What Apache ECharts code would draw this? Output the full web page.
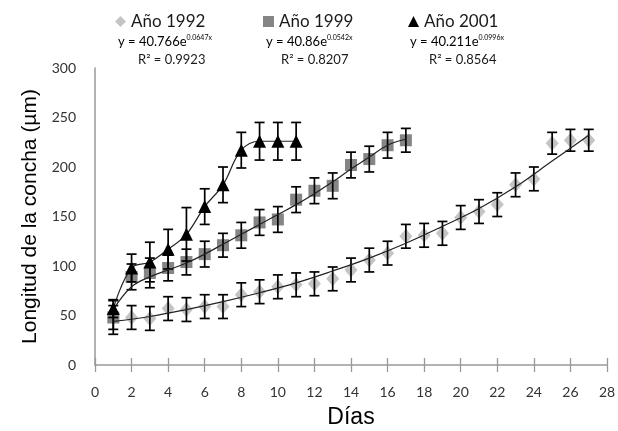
<!DOCTYPE html>
<html>
<head>
<meta charset="utf-8">
<script src="https://cdn.jsdelivr.net/npm/echarts@6/dist/echarts.min.js"></script>
<style>
html, body { margin: 0; padding: 0; background: #fff; }
#chart { width: 618px; height: 431px; }
</style>
</head>
<body>
<div id="chart"></div>
<script>
// Año 1992 (rombos)
var days1992 = [1, 2, 3, 4, 5, 6, 7, 8, 9, 10, 11, 12, 13, 14, 15, 16, 17, 18, 19, 20, 21, 22, 23, 24, 25, 26, 27];
var len1992 = [48, 48, 47, 57, 56, 59, 59, 71, 74, 79, 81, 82, 87, 96, 106, 113, 130, 131, 133, 149, 155, 162, 182, 188, 224, 227, 227];
var err1992 = [12, 12, 12, 12, 12, 12, 12, 12, 12, 12, 12, 12, 12, 12, 12, 12, 12, 12, 12, 12, 12, 12, 12, 12, 11, 11, 11];
// curva de tendencia 1992
var trendX1992 = [1, 3, 5, 7, 9, 11, 13, 15, 17, 19, 21, 23, 25, 27];
var trendY1992 = [44, 49, 56, 64, 73, 83, 95, 108, 123, 140, 158, 180, 206, 232];

// Año 1999 (cuadrados)
var days1999 = [1, 2, 3, 4, 5, 6, 7, 8, 9, 10, 11, 12, 13, 14, 15, 16, 17];
var len1999 = [48, 89, 93, 98, 104, 112, 121, 131, 144, 147, 167, 176, 181, 202, 208, 222, 227];
var err1999 = [17, 13, 15, 13, 13, 13, 12, 13, 13, 13, 13, 13, 13, 13, 13, 13, 12];
var trendX1999 = [1, 2, 3, 4, 5, 6, 7, 8, 9, 10, 11, 12, 13, 14, 15, 16, 17];
var trendY1999 = [56, 79, 89, 96, 103, 112, 122, 132, 142, 152, 162, 173, 185, 198, 210, 222, 228];

// Año 2001 (triangulos)
var days2001 = [1, 2, 3, 4, 5, 6, 7, 8, 9, 10, 11];
var len2001 = [57, 98, 104, 117, 132, 160, 182, 217, 226, 226, 226];
var err2001 = [9, 14, 20, 20, 27, 18, 18, 18, 19, 19, 19];

var xTicks = [0, 2, 4, 6, 8, 10, 12, 14, 16, 18, 20, 22, 24, 26, 28];
var yTicks = [0, 50, 100, 150, 200, 250, 300];

function pairs(xs, ys) {
    var d = [];
    for (var i = 0; i < xs.length; i++) d.push([xs[i], ys[i]]);
    return d;
}
function triples(xs, ys, es) {
    var d = [];
    for (var i = 0; i < xs.length; i++) d.push([xs[i], ys[i], es[i]]);
    return d;
}

// barras de error
function renderErr(params, api) {
    var x = api.value(0), y = api.value(1), e = api.value(2);
    var top = api.coord([x, y + e]);
    var bot = api.coord([x, y - e]);
    var hw = 5;
    var st = { stroke: '#000', lineWidth: 1.7 };
    return {
        type: 'group',
        children: [
            { type: 'line', shape: { x1: top[0], y1: top[1], x2: bot[0], y2: bot[1] }, style: st },
            { type: 'line', shape: { x1: top[0] - hw, y1: top[1], x2: top[0] + hw, y2: top[1] }, style: st },
            { type: 'line', shape: { x1: bot[0] - hw, y1: bot[1], x2: bot[0] + hw, y2: bot[1] }, style: st }
        ]
    };
}

var font = 'Lato, "Open Sans", sans-serif';
var titleFont = '"Liberation Sans", Arial, sans-serif';

function legendAt(left, name, icon, color) {
    return {
        left: left, top: 8, selectedMode: false,
        itemWidth: 11, itemHeight: 11, itemGap: 4,
        textStyle: { fontFamily: font, fontSize: 17, color: '#1a1a1a' },
        data: [{ name: name, icon: icon, itemStyle: { color: color } }]
    };
}

function eqText(left, top, a, sup) {
    return {
        type: 'text', left: left, top: top,
        style: {
            text: '{a|' + a + '}{s|' + sup + '}',
            rich: {
                a: { fontFamily: font, fontSize: 13, color: '#1a1a1a', lineHeight: 15 },
                s: { fontFamily: font, fontSize: 7, color: '#1a1a1a', verticalAlign: 'top', lineHeight: 15 }
            }
        }
    };
}
function r2Text(left, top, txt) {
    return {
        type: 'text', left: left, top: top,
        style: { text: txt, fontFamily: font, fontSize: 13, fill: '#1a1a1a' }
    };
}

var chart = echarts.init(document.getElementById('chart'));

var option = {
    animation: false,
    backgroundColor: '#fff',
    legend: [
        legendAt(110, 'Año 1992', 'diamond', '#c4c4c4'),
        legendAt(258, 'Año 1999', 'rect', '#858585'),
        legendAt(403, 'Año 2001', 'triangle', '#000')
    ],
    graphic: [
        eqText(118, 34, 'y = 40.766e', '0.0647x'),
        r2Text(138, 53, 'R² = 0.9923'),
        eqText(266, 34, 'y = 40.86e', '0.0542x'),
        r2Text(281, 53, 'R² = 0.8207'),
        eqText(410, 34, 'y = 40.211e', '0.0996x'),
        r2Text(429, 53, 'R² = 0.8564')
    ],
    grid: { left: 95, right: 11, top: 68, bottom: 66, outerBoundsMode: 'none', containLabel: false },
    xAxis: [{
        type: 'value', min: 0, max: 28, interval: 2,
        name: 'Días', nameLocation: 'middle', nameGap: 41,
        nameTextStyle: { fontFamily: titleFont, fontSize: 23, color: '#000' },
        axisLine: { lineStyle: { color: '#999', width: 1.5 } },
        axisTick: { show: true, length: 7, lineStyle: { color: '#999', width: 1.3 } },
        axisLabel: { fontFamily: font, fontSize: 14, color: '#333', margin: 20 },
        splitLine: { show: false }
    }, {
        type: 'value', min: 0, max: 28, interval: 2, position: 'bottom',
        axisLine: { show: false },
        axisTick: { show: true, inside: true, length: 7, lineStyle: { color: '#999', width: 1.3 } },
        axisLabel: { show: false },
        splitLine: { show: false }
    }],
    yAxis: {
        type: 'value', min: 0, max: 300, interval: 50,
        name: 'Longitud de la concha (µm)', nameLocation: 'middle', nameGap: 54,
        nameTextStyle: { fontFamily: titleFont, fontSize: 21, color: '#000' },
        axisLine: { show: true, lineStyle: { color: '#999', width: 1.5 } },
        axisTick: { show: false },
        axisLabel: { fontFamily: font, fontSize: 14, color: '#333', margin: 19 },
        splitLine: { show: false }
    },
    series: [
        {
            name: 'Año 1992', type: 'scatter', symbol: 'diamond', symbolSize: [13, 15],
            itemStyle: { color: '#c4c4c4', opacity: 1 }, z: 3,
            data: pairs(days1992, len1992)
        },
        {
            name: 'Año 1999', type: 'scatter', symbol: 'rect', symbolSize: 12,
            itemStyle: { color: '#858585', opacity: 1 }, z: 3,
            data: pairs(days1999, len1999)
        },
        {
            name: 'Año 2001', type: 'scatter', symbol: 'triangle', symbolSize: 13,
            itemStyle: { color: '#000', opacity: 1 }, z: 5,
            data: pairs(days2001, len2001)
        },
        {
            name: 'err1992', type: 'custom', renderItem: renderErr, z: 4,
            encode: { x: 0, y: 1 }, data: triples(days1992, len1992, err1992)
        },
        {
            name: 'err1999', type: 'custom', renderItem: renderErr, z: 4,
            encode: { x: 0, y: 1 }, data: triples(days1999, len1999, err1999)
        },
        {
            name: 'err2001', type: 'custom', renderItem: renderErr, z: 4,
            encode: { x: 0, y: 1 }, data: triples(days2001, len2001, err2001)
        },
        {
            name: 'tend1992', type: 'line', smooth: 0.4, showSymbol: false, symbol: 'none', z: 4,
            lineStyle: { color: '#222', width: 1.2 },
            data: pairs(trendX1992, trendY1992)
        },
        {
            name: 'tend1999', type: 'line', smooth: 0.4, showSymbol: false, symbol: 'none', z: 4,
            lineStyle: { color: '#222', width: 1.2 },
            data: pairs(trendX1999, trendY1999)
        },
        {
            name: 'tend2001', type: 'line', smooth: 0.4, showSymbol: false, symbol: 'none', z: 4,
            lineStyle: { color: '#222', width: 1.2 },
            data: pairs(days2001, len2001)
        }
    ]
};

chart.setOption(option);
</script>
</body>
</html>
